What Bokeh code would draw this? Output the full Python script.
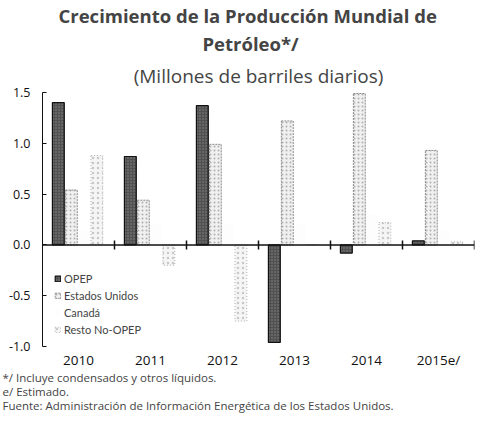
from bokeh.plotting import figure
from bokeh.models import (ColumnDataSource, FactorRange, Range1d, Title, Span,
                          Legend, LegendItem, FixedTicker, PrintfTickFormatter)
from bokeh.transform import dodge
from bokeh.embed import file_html
from bokeh.resources import INLINE
import math

years = ["2010", "2011", "2012", "2013", "2014", "2015e/"]
opep = [1.40, 0.87, 1.37, -0.96, -0.08, 0.04]
estados_unidos = [0.54, 0.44, 0.99, 1.22, 1.49, 0.93]
canada = [0.15, 0.20, 0.20, 0.20, 0.30, 0.15]
resto_no_opep = [0.88, -0.20, -0.75, 0.00, 0.22, 0.03]
y_ticks = [-1.0, -0.5, 0.0, 0.5, 1.0, 1.5]

FONT = "Open Sans"
SMALL = "Lato"

src = ColumnDataSource(dict(year=years, opep=opep, eu=estados_unidos,
                            ca=canada, resto=resto_no_opep,
                            zero=[0.0] * len(years)))

p = figure(width=476, height=413, output_backend="svg", toolbar_location=None,
           x_range=FactorRange(*years, range_padding=0),
           y_range=Range1d(y_ticks[0], y_ticks[-1]),
           min_border_left=42, min_border_right=2, min_border_top=0,
           min_border_bottom=0)

# titles (p.title is outermost; extra "above" titles: first added is closest to plot)
p.title.text = "Crecimiento de la Producción Mundial de"
p.title.text_font = FONT
p.title.text_font_size = "18.5px"
p.title.text_font_style = "bold"
p.title.align = "left"
p.title.offset = 16
p.title.standoff = 0
p.add_layout(Title(text="(Millones de barriles diarios)", text_font=FONT,
                   text_font_size="19px", text_font_style="normal", align="center",
                   standoff=8), "above")
p.add_layout(Title(text="Petróleo*/", text_font=FONT, text_font_size="18.5px",
                   text_font_style="bold", align="left", offset=160,
                   standoff=2), "above")

w = 0.165
offs = [-0.28, -0.10, 0.075, 0.255]
r_opep = p.vbar(x=dodge("year", offs[0], range=p.x_range), top="opep", bottom=0,
                width=w, source=src, fill_color="#505050", line_color="#111111",
                line_width=1.2, hatch_pattern="dot", hatch_color="#8a8a8a",
                hatch_scale=3, hatch_weight=1)
r_eu = p.vbar(x=dodge("year", offs[1], range=p.x_range), top="eu", bottom=0,
              width=w, source=src, fill_color="#f0f0f0", line_color="#8a8a8a",
              line_width=1, line_dash="2 1", hatch_pattern="dot",
              hatch_color="#b0b0b0", hatch_scale=4, hatch_weight=1)
r_ca = p.vbar(x=dodge("year", offs[2], range=p.x_range), top="ca", bottom=0,
              width=w, source=src, fill_color="#fdfdfd", line_color=None)
r_resto = p.vbar(x=dodge("year", offs[3], range=p.x_range), top="resto", bottom=0,
                 width=w, source=src, fill_color="#f5f5f5", line_color="#b0b0b0",
                 line_width=1, line_dash="1 2", hatch_pattern="dot",
                 hatch_color="#c8c8c8", hatch_scale=5, hatch_weight=1)

p.add_layout(Span(location=0, dimension="width", line_color="#111111", line_width=1.5))
p.scatter(x=dodge("year", 0.5, range=p.x_range), y="zero", source=src,
          marker="dash", angle=math.pi / 2, size=9, line_color="#111111",
          line_width=1.5)

legend = Legend(items=[LegendItem(label="OPEP", renderers=[r_opep]),
                       LegendItem(label="Estados Unidos", renderers=[r_eu]),
                       LegendItem(label="Canadá", renderers=[r_ca]),
                       LegendItem(label="Resto No-OPEP", renderers=[r_resto])],
                location=(12, 10), label_text_font=SMALL, label_text_font_size="11px",
                glyph_width=7, glyph_height=7, label_height=13, spacing=4,
                padding=0, margin=0, label_standoff=3,
                background_fill_alpha=0, border_line_alpha=0)
p.add_layout(legend)

p.xgrid.visible = False
p.ygrid.visible = False
p.outline_line_color = None

p.yaxis.ticker = FixedTicker(ticks=y_ticks)
p.yaxis.formatter = PrintfTickFormatter(format="%.1f")
p.yaxis.major_tick_in = 4
p.yaxis.major_tick_out = 0
p.yaxis.minor_tick_line_color = None
p.yaxis.axis_line_color = "#111111"
p.yaxis.major_tick_line_color = "#111111"
p.yaxis.major_label_standoff = 12
p.yaxis.major_label_text_font = FONT
p.yaxis.major_label_text_font_size = "12.5px"
p.yaxis.major_label_text_color = "#111111"

p.xaxis.axis_line_color = None
p.xaxis.major_tick_line_color = None
p.xaxis.minor_tick_line_color = None
p.xaxis.major_tick_in = 0
p.xaxis.major_tick_out = 0
p.xaxis.major_label_standoff = 4
p.xaxis.major_label_text_font = FONT
p.xaxis.major_label_text_font_size = "13.5px"
p.xaxis.major_label_text_color = "#111111"

for t in ["*/ Incluye condensados y otros líquidos.",
          "e/ Estimado.",
          "Fuente: Administración de Información Energética de los Estados Unidos."]:
    p.add_layout(Title(text=t, text_font=FONT, text_font_size="11.5px",
                       text_font_style="normal", align="left", standoff=-3,
                       vertical_align="top", offset=-40), "below")

open("out.html", "w").write(file_html(p, INLINE))
